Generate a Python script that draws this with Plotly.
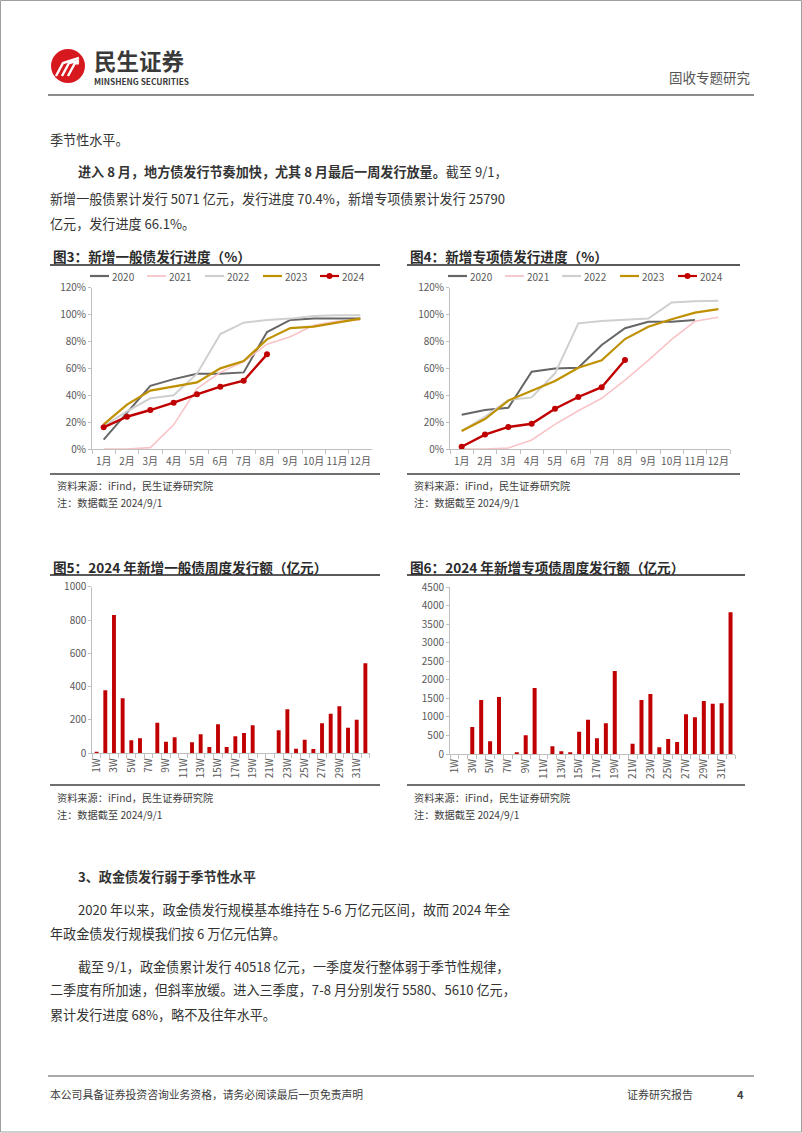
import plotly.graph_objects as go

W, H = 802, 1133
FONT = "Noto Sans CJK SC"

# ---------------- data ----------------
months = ['1月', '2月', '3月', '4月', '5月', '6月', '7月', '8月', '9月', '10月', '11月', '12月']
years = ['2020', '2021', '2022', '2023', '2024']

general_2020 = [7, 27, 47, 52, 56, 56, 57, 87, 96, 97, 97, 97]
general_2021 = [0, 0, 1, 18, 45, 57, 65, 78, 83.5, 92, 95, 96]
general_2022 = [17, 28, 37.7, 40, 56, 85.5, 94, 96, 97, 99, 99.5, 99.5]
general_2023 = [18.3, 33, 43.4, 46.4, 49.6, 60, 65.5, 81.6, 90, 91, 94, 97]
general_2024 = [16.1, 24, 29, 34.5, 40.7, 46.4, 50.8, 70.4, None, None, None, None]

special_2020 = [25.5, 29, 30.7, 57.5, 59.8, 60.5, 77.4, 89.8, 94.7, 94.7, 96, None]
special_2021 = [0, 0, 0.7, 6.7, 18.3, 28.5, 37.7, 51.3, 66, 81.6, 95, 98]
special_2022 = [13.4, 24, 36.4, 38.4, 56.3, 93.5, 95.2, 96.2, 97, 109, 110, 110.3]
special_2023 = [13.4, 22.3, 36, 43.4, 50.6, 60.5, 66, 81.8, 91, 96.5, 101.4, 104]
special_2024 = [1.7, 10.7, 16.4, 18.8, 30, 38.7, 46, 66.2, None, None, None, None]

weeks = ['1W', '2W', '3W', '4W', '5W', '6W', '7W', '8W', '9W', '10W', '11W', '12W',
         '13W', '14W', '15W', '16W', '17W', '18W', '19W', '20W', '21W', '22W', '23W',
         '24W', '25W', '26W', '27W', '28W', '29W', '30W', '31W', '32W']
week_ticktext = ['1W', '', '3W', '', '5W', '', '7W', '', '9W', '', '11W', '', '13W', '',
                 '15W', '', '17W', '', '19W', '', '21W', '', '23W', '', '25W', '', '27W', '',
                 '29W', '', '31W', '']
general_weekly = [8, 378, 830, 330, 78, 90, 0, 184, 70, 96, 0, 66, 114, 38, 174, 38,
                  102, 122, 168, 0, 0, 138, 264, 28, 82, 26, 180, 238, 282, 154, 202, 540]
special_weekly = [0, 0, 729, 1458, 342, 1539, 0, 45, 504, 1782, 0, 207, 72, 45, 603, 927,
                  423, 828, 2241, 0, 279, 1458, 1620, 180, 405, 324, 1071, 990, 1431, 1359,
                  1368, 3825]

pct_ticks = [0, 20, 40, 60, 80, 100, 120]
pct_labels = ['0%', '20%', '40%', '60%', '80%', '100%', '120%']

# ---------------- styles ----------------
line_colors = ['#666666', '#F8C4C8', '#CFCFCF', '#BF9000', '#C00000']
line_widths = [2, 1.6, 2, 2.2, 2.4]
BAR_RED = '#C00000'
TICK_COLOR = '#595959'
AXIS_COLOR = '#BFBFBF'
BODY = 13.1


def px(x):
    return x / W


def py(y):
    return 1 - y / H


fig = go.Figure()

general_series = [general_2020, general_2021, general_2022, general_2023, general_2024]
special_series = [special_2020, special_2021, special_2022, special_2023, special_2024]

for axes, series in [(('x', 'y'), general_series), (('x2', 'y2'), special_series)]:
    for i, yr in enumerate(years):
        is24 = yr == '2024'
        fig.add_trace(go.Scatter(
            x=months, y=series[i], name=yr, xaxis=axes[0], yaxis=axes[1],
            mode='lines+markers' if is24 else 'lines',
            line=dict(color=line_colors[i], width=line_widths[i]),
            marker=dict(size=6, color=line_colors[i]),
            showlegend=False, connectgaps=False))

fig.add_trace(go.Bar(x=weeks, y=general_weekly, xaxis='x3', yaxis='y3',
                     marker=dict(color=BAR_RED, line=dict(width=0)), showlegend=False))
fig.add_trace(go.Bar(x=weeks, y=special_weekly, xaxis='x4', yaxis='y4',
                     marker=dict(color=BAR_RED, line=dict(width=0)), showlegend=False))

tickfont = dict(family=FONT, size=10, color=TICK_COLOR)


def xcat(domain, anchor, n, angle=0, tickvals=None, ticktext=None, standoff=0):
    d = dict(domain=domain, anchor=anchor, type='category', range=[-0.5, n - 0.5],
             showline=True, linecolor=AXIS_COLOR, linewidth=1, ticks='outside',
             tickson='boundaries', ticklen=4, tickcolor=AXIS_COLOR, showgrid=False,
             zeroline=False, tickfont=tickfont, tickangle=angle, fixedrange=True,
             automargin=False, ticklabelstandoff=standoff)
    if tickvals is not None:
        d.update(tickmode='array', tickvals=tickvals, ticktext=ticktext)
    return d


def yax(domain, anchor, rng, tickvals, ticktext=None):
    d = dict(domain=domain, anchor=anchor, range=rng, showline=True, linecolor=AXIS_COLOR,
             linewidth=1, ticks='outside', ticklen=3, tickcolor=AXIS_COLOR, showgrid=False,
             zeroline=False, tickfont=tickfont, tickmode='array', tickvals=tickvals,
             fixedrange=True, automargin=False)
    if ticktext is not None:
        d['ticktext'] = ticktext
    return d


fig.update_layout(
    width=W, height=H, margin=dict(l=0, r=0, t=0, b=0, autoexpand=False),
    paper_bgcolor='white', plot_bgcolor='white', bargap=0.55,
    font=dict(family=FONT, color='#333333'),
    xaxis=xcat([px(92), px(372)], 'y', 12, standoff=3),
    yaxis=yax([py(449), py(287.7)], 'x', [0, 120], pct_ticks, pct_labels),
    xaxis2=xcat([px(450), px(730)], 'y2', 12, standoff=3),
    yaxis2=yax([py(449), py(287.7)], 'x2', [0, 120], pct_ticks, pct_labels),
    xaxis3=xcat([px(92.3), px(369.7)], 'y3', 32, -90, weeks, week_ticktext),
    yaxis3=yax([py(753.3), py(586.7)], 'x3', [0, 1000], [0, 200, 400, 600, 800, 1000]),
    xaxis4=xcat([px(450), px(735)], 'y4', 32, -90, weeks, week_ticktext),
    yaxis4=yax([py(754), py(587.3)], 'x4', [0, 4500],
               [0, 500, 1000, 1500, 2000, 2500, 3000, 3500, 4000, 4500]),
    showlegend=False,
)

shapes = []
ann = []


def hline(x0, x1, y, color, width):
    shapes.append(dict(type='line', xref='paper', yref='paper', x0=px(x0), x1=px(x1),
                       y0=py(y), y1=py(y), line=dict(color=color, width=width)))


def text(x, y, s, size=14, color='#333333', anchor='left'):
    ann.append(dict(x=px(x), y=py(y), xref='paper', yref='paper', text=s, showarrow=False,
                    xanchor=anchor, yanchor='middle',
                    font=dict(family=FONT, size=size, color=color)))


# page frame
shapes.append(dict(type='rect', xref='paper', yref='paper', x0=px(0.5), x1=px(801.5),
                   y0=py(1132), y1=py(0.5), line=dict(color='#9E9E9E', width=1)))
# header and footer rules
hline(48, 754, 95, '#8C8C8C', 2)
hline(48, 754, 1076, '#8C8C8C', 1.5)
# chart title underlines and bottom rules
for (x0, x1) in [(50, 380), (407, 740)]:
    hline(x0, x1, 265, '#595959', 2)
    hline(x0, x1, 474, '#404040', 1.5)
for (x0, x1) in [(50, 380), (407, 745)]:
    hline(x0, x1, 575, '#595959', 2)
    hline(x0, x1, 785, '#404040', 1.5)

# manual legends (line sample + label)
legend_starts = {
    'left': [90, 147, 205, 263, 320],
    'right': [448, 505, 562, 620, 678],
}
for key, starts in legend_starts.items():
    for i, yr in enumerate(years):
        x0 = starts[i]
        hline(x0, x0 + 19, 276, line_colors[i], 2.2 if i != 1 else 1.8)
        if yr == '2024':
            shapes.append(dict(type='circle', xref='paper', yref='paper',
                               x0=px(x0 + 6.5), x1=px(x0 + 12.5),
                               y0=py(279), y1=py(273), fillcolor=line_colors[i],
                               line=dict(width=0)))
        text(x0 + 20, 276, yr, size=10, color=TICK_COLOR)

# logo circle
cx, cy, r = 68, 66, 17
shapes.append(dict(type='circle', xref='paper', yref='paper', x0=px(cx - r), x1=px(cx + r),
                   y0=py(cy + r), y1=py(cy - r), fillcolor='#D7191F', line=dict(width=0)))


def path_px(pts):
    return 'M ' + ' L '.join(f'{px(a):.5f},{py(b):.5f}' for a, b in pts)


for off in [0, 6, 12]:
    pts = [(cx - 12 + off, cy + 10), (cx - 5 + off, cy - 3), (cx + 11, cy - 8 + off * 0.45)]
    shapes.append(dict(type='path', xref='paper', yref='paper', path=path_px(pts),
                       line=dict(color='white', width=2.4)))

text(92, 60, '<b>民生证券</b>', size=22.5, color='#3A3A3A')
text(92, 81.5, '<b>MINSHENG SECURITIES</b>', size=8.3, color='#3A3A3A')
text(752, 77, '固收专题研究', size=13.5, color='#555555', anchor='right')

text(48, 140, '季节性水平。', size=BODY)
text(76, 172, '<b>进入 8 月，地方债发行节奏加快，尤其 8 月最后一周发行放量。</b>截至 9/1，', size=BODY)
text(48, 198, '新增一般债累计发行 5071 亿元，发行进度 70.4%，新增专项债累计发行 25790', size=BODY)
text(48, 223, '亿元，发行进度 66.1%。', size=BODY)

text(51, 256, '<b>图3：新增一般债发行进度（%）</b>', size=13.6, color='#2B2B2B')
text(408, 256, '<b>图4：新增专项债发行进度（%）</b>', size=13.6, color='#2B2B2B')
text(51, 567, '<b>图5：2024 年新增一般债周度发行额（亿元）</b>', size=13.6, color='#2B2B2B')
text(408, 567, '<b>图6：2024 年新增专项债周度发行额（亿元）</b>', size=13.6, color='#2B2B2B')

for (x, y0) in [(55, 485), (412, 485), (55, 797), (412, 797)]:
    text(x, y0, '资料来源：iFind，民生证券研究院', size=10.2, color='#404040')
    text(x, y0 + 17, '注：数据截至 2024/9/1', size=10.2, color='#404040')

text(76, 876, '<b>3、政金债发行弱于季节性水平</b>', size=BODY)
text(76, 909, '2020 年以来，政金债发行规模基本维持在 5-6 万亿元区间，故而 2024 年全', size=BODY)
text(48, 933, '年政金债发行规模我们按 6 万亿元估算。', size=BODY)
text(76, 966, '截至 9/1，政金债累计发行 40518 亿元，一季度发行整体弱于季节性规律，', size=BODY)
text(48, 990, '二季度有所加速，但斜率放缓。进入三季度，7-8 月分别发行 5580、5610 亿元，', size=BODY)
text(48, 1014, '累计发行进度 68%，略不及往年水平。', size=BODY)

text(48, 1094, '本公司具备证券投资咨询业务资格，请务必阅读最后一页免责声明', size=10.8, color='#404040')
text(625, 1094, '证券研究报告', size=11, color='#404040')
text(746, 1094, '<b>4</b>', size=11, color='#404040', anchor='right')

fig.update_layout(shapes=shapes, annotations=ann)

fig.write_html("out.html")
